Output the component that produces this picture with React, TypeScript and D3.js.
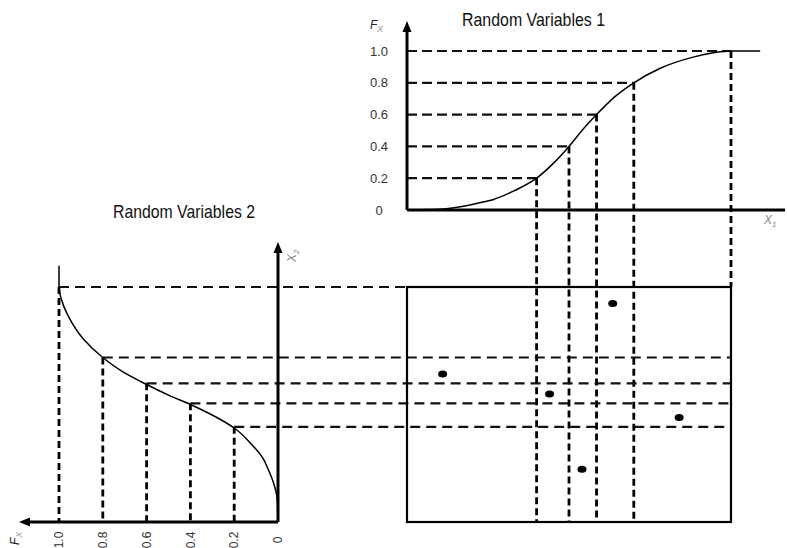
import * as d3 from 'd3'

const W = 787
const H = 548

// probability levels used to split both variables into strata
const probLevels = [0.2, 0.4, 0.6, 0.8, 1.0]
const probTickLabels = ['0', '0.2', '0.4', '0.6', '0.8', '1.0']
const probTicks = [0, 0.2, 0.4, 0.6, 0.8, 1.0]

// inverse cdf values (x at each probability level)
const x1Quantiles = [4.0, 5.0, 5.85, 7.0, 10.0]
const x2Quantiles = [4.05, 5.05, 5.9, 7.0, 10.0]

// cdf curve
const cdfX = [0, 1, 1.65, 2.35, 2.65, 3.3, 4.0, 4.5, 5.0, 5.4, 5.85, 6.4, 7.0, 7.8, 8.8, 9.5, 10.0, 10.9]
const cdfF = [0, 0.004, 0.02, 0.05, 0.065, 0.12, 0.2, 0.29, 0.4, 0.5, 0.6, 0.71, 0.8, 0.89, 0.96, 0.99, 1.0, 1.0]

// latin hypercube samples (x1, x2)
const sampleX1 = [1.1, 4.4, 5.4, 6.35, 8.4]
const sampleX2 = [6.3, 5.45, 2.25, 9.3, 4.45]

const FONT = '"Liberation Sans", Arial, sans-serif'

const Arrow = ({ x, y, dir }: { x: number; y: number; dir: 'up' | 'left' }) => {
  const d =
    dir === 'up'
      ? `M${x},${y} L${x - 4.5},${y + 11} L${x + 4.5},${y + 11} Z`
      : `M${x},${y} L${x + 11},${y - 4.5} L${x + 11},${y + 4.5} Z`
  return <path d={d} fill="#000" />
}

const FLabel = ({ x, y, rotate = 0 }: { x: number; y: number; rotate?: number }) => (
  <text
    transform={`translate(${x},${y}) rotate(${rotate})`}
    fontFamily={FONT}
    fontStyle="italic"
    fontSize={12}
    fill="#222"
  >
    F
    <tspan fontSize={9} dy={3} fill="#999">X</tspan>
  </text>
)

export default function App() {
  // top chart scales
  const x1 = d3.scaleLinear().domain([0, 10]).range([407, 731])
  const fTop = d3.scaleLinear().domain([0, 1]).range([210, 51])
  // left chart scales (rotated)
  const fLeft = d3.scaleLinear().domain([0, 1]).range([278, 59])
  const x2 = d3.scaleLinear().domain([0, 10]).range([522, 287])

  const cdf = cdfX.map((x, i) => [x, cdfF[i]] as [number, number])

  const topLine = d3
    .line<[number, number]>()
    .x((d) => x1(d[0]))
    .y((d) => fTop(d[1]))
    .curve(d3.curveMonotoneX)

  const leftLine = d3
    .line<[number, number]>()
    .x((d) => fLeft(d[1]))
    .y((d) => x2(d[0]))
    .curve(d3.curveMonotoneY)

  const boxL = x1(0)
  const boxR = x1(10)
  const boxT = x2(10)
  const boxB = x2(0)

  const hDash = '10,5'
  const vDash = '7,4'

  return (
    <svg
      width={W}
      height={H}
      style={{ position: 'absolute', left: 0, top: 0, background: '#fff' }}
    >
      <rect width={W} height={H} fill="#fff" />

      {/* titles */}
      <text x={462} y={26} fontFamily={FONT} fontSize={19} fill="#111" textLength={143} lengthAdjust="spacingAndGlyphs">
        Random Variables 1
      </text>
      <text x={113} y={218} fontFamily={FONT} fontSize={19} fill="#111" textLength={142} lengthAdjust="spacingAndGlyphs">
        Random Variables 2
      </text>

      {/* top chart: horizontal dashed guides */}
      {probLevels.map((p, i) => (
        <line
          key={`th${i}`}
          x1={x1(0)}
          x2={x1(x1Quantiles[i])}
          y1={fTop(p)}
          y2={fTop(p)}
          stroke="#111"
          strokeWidth={2.2}
          strokeDasharray={hDash}
        />
      ))}
      {/* top chart: vertical dashed guides into the box */}
      {probLevels.map((p, i) => (
        <line
          key={`tv${i}`}
          x1={x1(x1Quantiles[i])}
          x2={x1(x1Quantiles[i])}
          y1={fTop(p)}
          y2={p < 1 ? boxB : boxT}
          stroke="#000"
          strokeWidth={2.8}
          strokeDasharray={vDash}
        />
      ))}

      {/* left chart: vertical dashed guides */}
      {probLevels.map((p, i) => (
        <line
          key={`lv${i}`}
          x1={fLeft(p)}
          x2={fLeft(p)}
          y1={x2(x2Quantiles[i])}
          y2={x2(0)}
          stroke="#000"
          strokeWidth={2.8}
          strokeDasharray={vDash}
        />
      ))}
      {/* left chart: horizontal dashed guides into the box */}
      {probLevels.map((p, i) => (
        <line
          key={`lh${i}`}
          x1={fLeft(p)}
          x2={p < 1 ? boxR : boxL}
          y1={x2(x2Quantiles[i])}
          y2={x2(x2Quantiles[i])}
          stroke="#111"
          strokeWidth={2.2}
          strokeDasharray="10,6"
        />
      ))}

      {/* cdf curves */}
      <path d={topLine(cdf) ?? ''} fill="none" stroke="#000" strokeWidth={1.5} />
      <path d={leftLine(cdf) ?? ''} fill="none" stroke="#000" strokeWidth={1.5} />

      {/* top axes */}
      <line x1={x1(0)} x2={x1(0)} y1={fTop(0)} y2={30} stroke="#000" strokeWidth={3} />
      <Arrow x={x1(0)} y={21} dir="up" />
      <line x1={x1(0)} x2={785} y1={fTop(0)} y2={fTop(0)} stroke="#000" strokeWidth={3} />
      {probTicks.map((p, i) => (
        <text
          key={`tt${i}`}
          x={379}
          y={fTop(p)}
          dy="0.35em"
          textAnchor="middle"
          fontFamily={FONT}
          fontSize={13}
          fill="#333"
        >
          {probTickLabels[i]}
        </text>
      ))}
      <FLabel x={370} y={29} />
      <text x={764} y={224} fontFamily={FONT} fontStyle="italic" fontSize={12} fill="#888">
        X<tspan fontSize={8} dy={3}>1</tspan>
      </text>

      {/* left axes */}
      <line x1={fLeft(0)} x2={fLeft(0)} y1={x2(0)} y2={252} stroke="#000" strokeWidth={3} />
      <Arrow x={fLeft(0)} y={242} dir="up" />
      <line x1={fLeft(0)} x2={29} y1={x2(0)} y2={x2(0)} stroke="#000" strokeWidth={3} />
      <Arrow x={19} y={x2(0)} dir="left" />
      {probTicks.map((p, i) => (
        <text
          key={`lt${i}`}
          transform={`translate(${fLeft(p)},540) rotate(-90)`}
          dy="0.35em"
          textAnchor="middle"
          fontFamily={FONT}
          fontSize={12}
          fill="#333"
        >
          {probTickLabels[i]}
        </text>
      ))}
      <FLabel x={19} y={545} rotate={-90} />
      <text
        transform="translate(296,262) rotate(-90)"
        fontFamily={FONT}
        fontStyle="italic"
        fontSize={12}
        fill="#888"
      >
        X<tspan fontSize={8} dy={3}>2</tspan>
      </text>

      {/* sample box */}
      <rect
        x={boxL}
        y={boxT}
        width={boxR - boxL}
        height={boxB - boxT}
        fill="none"
        stroke="#000"
        strokeWidth={2.2}
      />
      {sampleX1.map((s, i) => (
        <ellipse key={`s${i}`} cx={x1(s)} cy={x2(sampleX2[i])} rx={4.5} ry={3.5} fill="#000" />
      ))}
    </svg>
  )
}
